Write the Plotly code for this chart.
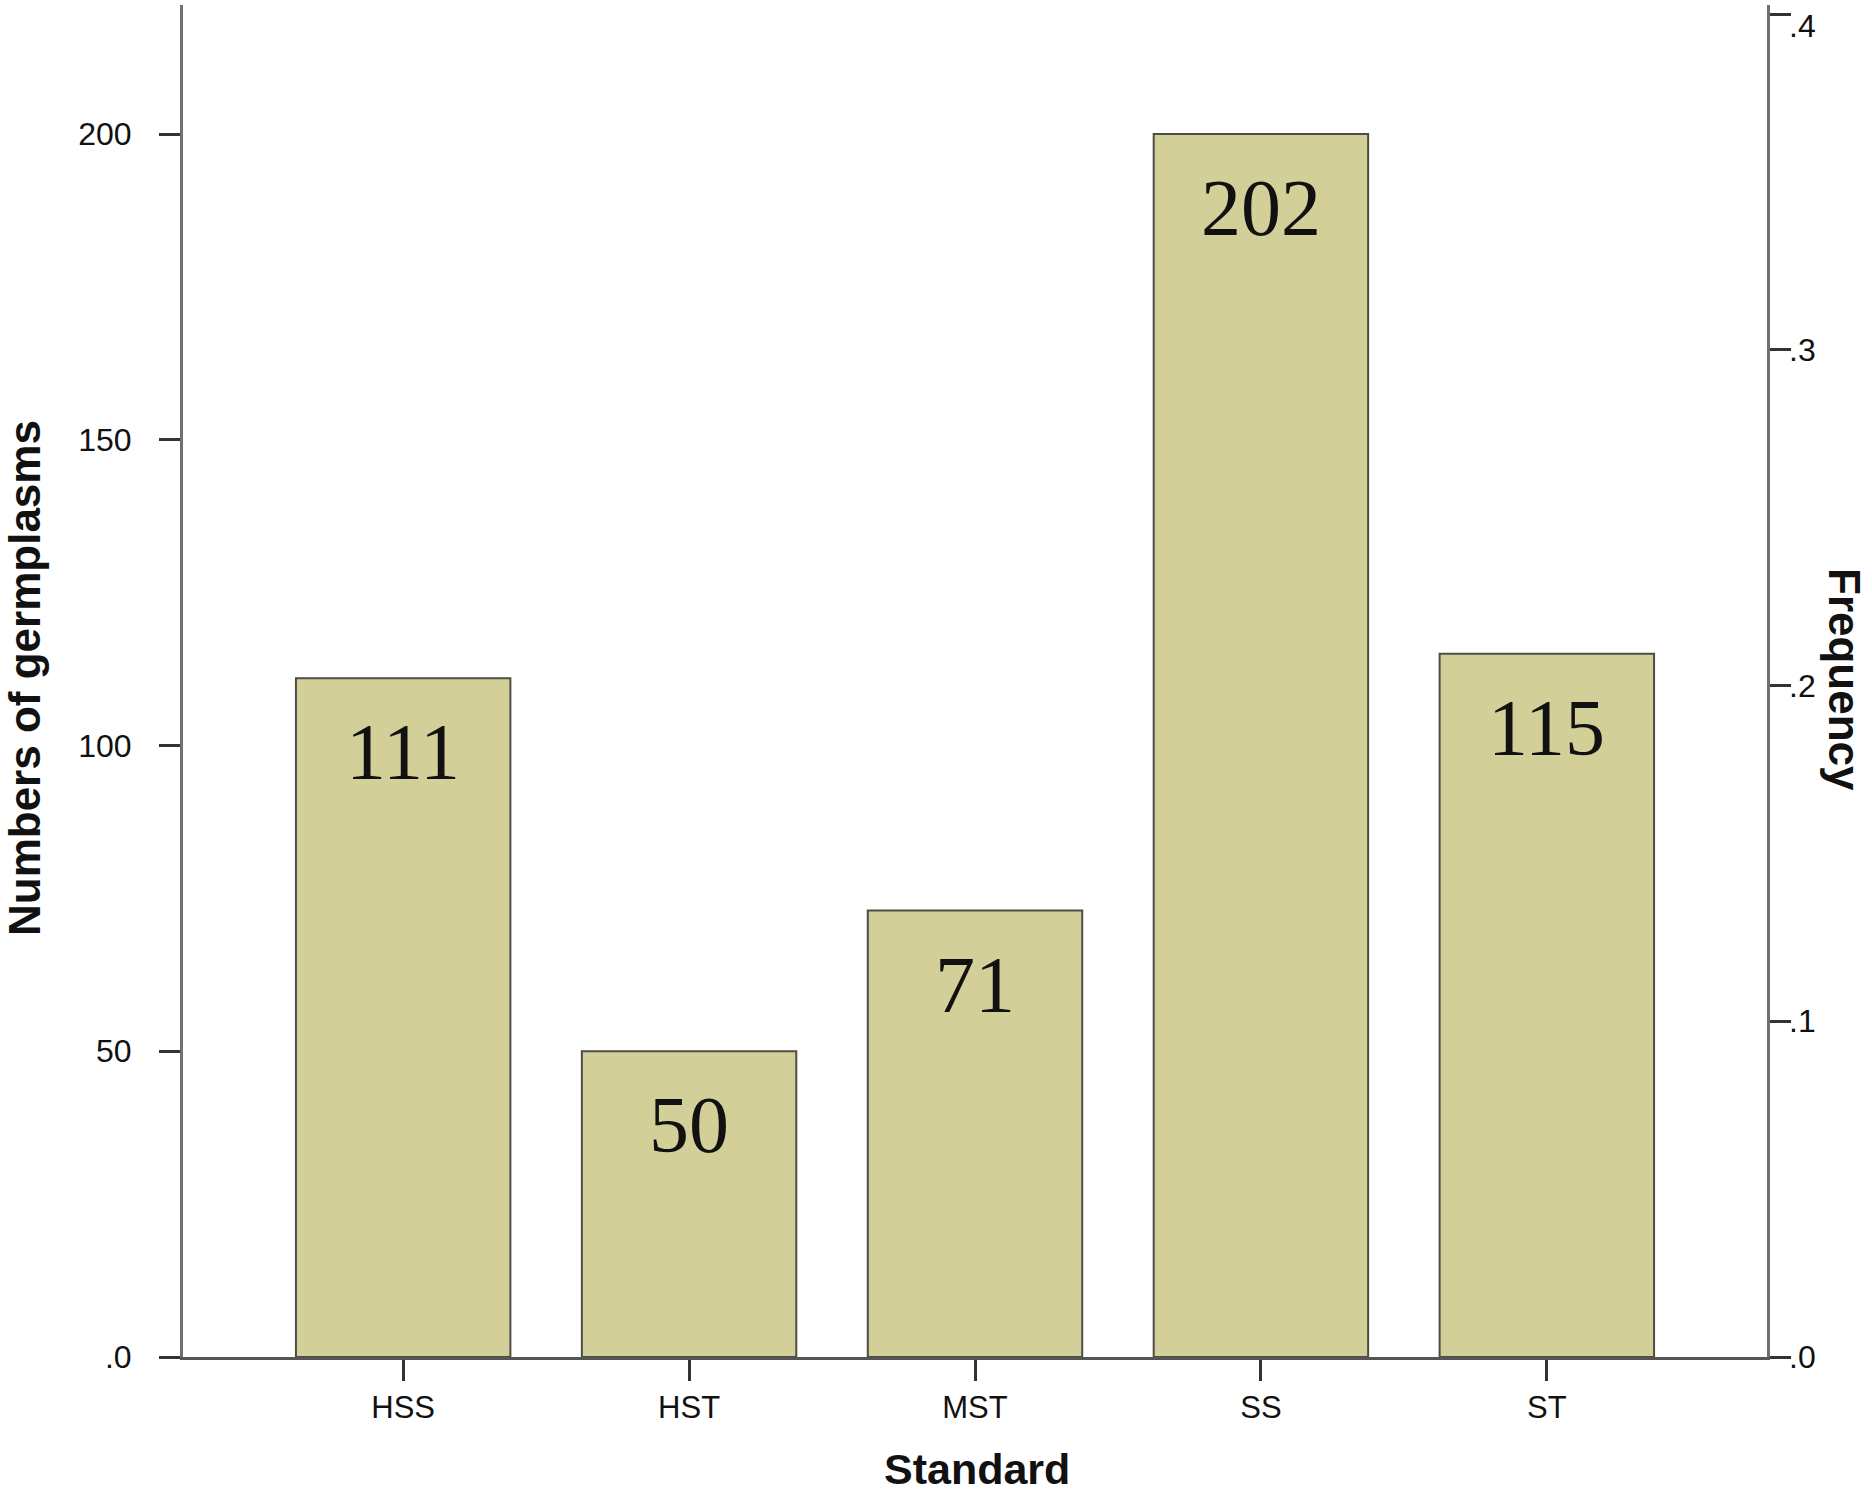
import plotly.graph_objects as go

categories = ["HSS", "HST", "MST", "SS", "ST"]
bar_heights = [111, 50, 73, 200, 115]          # heights as drawn
bar_labels = ["111", "50", "71", "202", "115"]  # numbers printed on bars
total = 549

left_tickvals = [0, 50, 100, 150, 200]
left_ticktext = [".0", "50", "100", "150", "200"]
right_tickvals = [0.0, 0.1, 0.2, 0.3, 0.4]
right_ticktext = [".0", ".1", ".2", ".3", ".4"]

ymax = 221.1

fig = go.Figure()
fig.add_trace(go.Bar(
    x=categories, y=bar_heights, width=0.75,
    marker=dict(color="#D3CF98", line=dict(color="#4d4d45", width=2)),
    hoverinfo="skip", showlegend=False,
))
# invisible trace to activate the right axis
fig.add_trace(go.Scatter(x=[categories[0]], y=[0], yaxis="y2", mode="markers",
                         marker=dict(opacity=0), showlegend=False, hoverinfo="skip"))

for c, h, t in zip(categories, bar_heights, bar_labels):
    fig.add_annotation(x=c, y=h, xref="x", yref="y", text=t, showarrow=False,
                       yanchor="middle", yshift=-74,
                       font=dict(family="Liberation Serif", size=80, color="#111111"))

# right-axis tick labels (top one kept inside the page, as in the original)
for v, t in zip(right_tickvals, right_ticktext):
    fig.add_annotation(x=1, y=v, xref="paper", yref="y2", text=t, showarrow=False,
                       xanchor="left", yanchor="middle", xshift=20,
                       yshift=-12 if v == max(right_tickvals) else 0,
                       font=dict(family="Liberation Sans", size=32, color="#111111"))

fig.add_annotation(text="<b>Numbers of germplasms</b>", xref="paper", yref="paper",
                   x=(24 - 183) / 1584, y=(1357 - 678) / 1352, textangle=-90,
                   showarrow=False, xanchor="center", yanchor="middle",
                   font=dict(family="Liberation Sans", size=44, color="#111111"))
fig.add_annotation(text="<b>Frequency</b>", xref="paper", yref="paper",
                   x=(1845 - 183) / 1584, y=(1357 - 679) / 1352, textangle=90,
                   showarrow=False, xanchor="center", yanchor="middle",
                   font=dict(family="Liberation Sans", size=44, color="#111111"))
fig.add_annotation(text="<b>Standard</b>", xref="paper", yref="paper",
                   x=(977 - 183) / 1584, y=(1357 - 1469) / 1352,
                   showarrow=False, xanchor="center", yanchor="middle",
                   font=dict(family="Liberation Sans", size=43, color="#111111"))

fig.update_layout(
    width=1872, height=1494,
    margin=dict(l=183, r=105, t=5, b=137),
    paper_bgcolor="white", plot_bgcolor="white",
    bargap=0.25,
    xaxis=dict(range=[-0.77, 4.77], showgrid=False, zeroline=False,
               showline=True, linecolor="#555555", linewidth=3,
               ticks="outside", ticklen=21, tickwidth=3, tickcolor="#333333",
               tickfont=dict(family="Liberation Sans", size=31, color="#111111"),
               ticklabelstandoff=0, automargin=False),
    yaxis=dict(range=[0, ymax], showgrid=False, zeroline=False,
               showline=True, linecolor="#707070", linewidth=3,
               ticks="outside", ticklen=21, tickwidth=3, tickcolor="#333333",
               tickvals=left_tickvals, ticktext=left_ticktext,
               tickfont=dict(family="Liberation Sans", size=32, color="#111111"),
               ticklabelstandoff=21, ticklabeloverflow="allow", automargin=False),
    yaxis2=dict(range=[0, ymax / total], overlaying="y", side="right",
                showgrid=False, zeroline=False,
                showline=True, linecolor="#707070", linewidth=3,
                ticks="outside", ticklen=21, tickwidth=3, tickcolor="#333333",
                tickvals=right_tickvals, showticklabels=False, automargin=False),
)

fig.write_html("out.html", config={"displayModeBar": False},
               post_script="document.body.style.margin='0';")
